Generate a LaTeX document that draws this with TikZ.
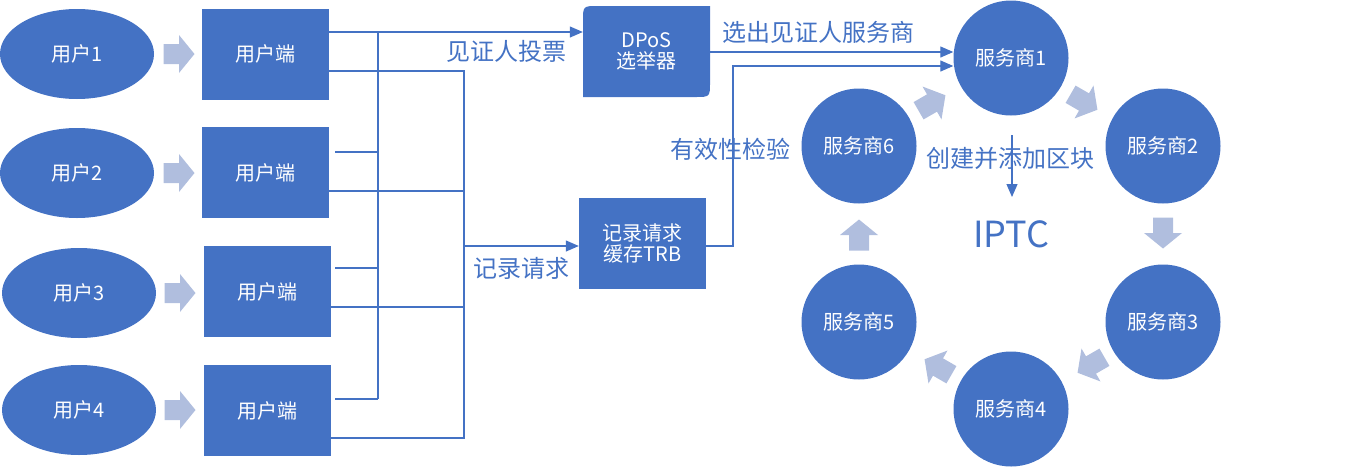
\documentclass[tikz,border=0pt]{standalone}
\usepackage{fontspec}
\setmainfont{Noto Sans CJK SC}
\usetikzlibrary{
  arrows.meta,
  shapes.geometric,
  positioning
}
\definecolor{boxblue}{RGB}{68,114,196}
\definecolor{lightblue}{RGB}{176,190,222}

\begin{document}
\begin{tikzpicture}[x=1pt,y=-1pt,
      user/.style={
         ellipse,
         minimum width=154pt,
         minimum height=90pt,
         inner sep=0pt,
         fill=boxblue,
         text=white,
         font=\fontsize{20}{24}\selectfont
      },
      client/.style={
         rectangle,
         minimum width=127pt,
         minimum height=91pt,
         inner sep=0pt,
         fill=boxblue,
         text=white,
         align=center,
         font=\fontsize{20}{24}\selectfont
      },
      server/.style={
         circle,
         minimum size=115pt,
         inner sep=0pt,
         fill=boxblue,
         text=white,
         font=\fontsize{20}{24}\selectfont
      },
      blk/.pic={
         \fill[lightblue] (-15.5,-10) -- (0,-10) -- (0,-19) -- (15.5,0)
            -- (0,19) -- (0,10) -- (-15.5,10) -- cycle;
      },
      lbl/.style={text=boxblue, font=\fontsize{24}{28}\selectfont},
      ln/.style={draw=boxblue, line width=1.2pt},
      tip/.style={-{Triangle[length=13pt,width=11pt]}}
    ]
    \useasboundingbox (0,0) rectangle (1361,469);
    % users and clients
    \node (u1) [user] at (77,54) {用户1};
    \node (u2) [user] at (77,173) {用户2};
    \node (u3) [user] at (79,293) {用户3};
    \node (u4) [user] at (79,410) {用户4};
    \node (c1) [client] at (265.5,54) {用户端};
    \node (c2) [client] at (265.5,172.5) {用户端};
    \node (c3) [client] at (267.5,291.5) {用户端};
    \node (c4) [client] at (267.5,410.5) {用户端};
    \pic at (179,54) {blk};
    \pic at (179,173) {blk};
    \pic at (180,293) {blk};
    \pic at (180,410) {blk};
    % DPoS and TRB
    \fill[boxblue] (583,97) -- (583,21) .. controls (583,6) .. (598,6) -- (710,6)
       -- (710,82) .. controls (710,97) .. (695,97) -- cycle;
    \node (dpos) [client, fill=none, minimum width=127pt] at (646.5,51.5) {DPoS\\[-3pt]选举器};
    \node (trb) [client] at (642.5,243) {记录请求\\[-3pt]缓存TRB};
    % servers
    \node (s1) [server] at (1011,58) {服务商1};
    \node (s2) [server] at (1163,146) {服务商2};
    \node (s3) [server] at (1163,322) {服务商3};
    \node (s4) [server] at (1011,409) {服务商4};
    \node (s5) [server] at (859,322) {服务商5};
    \node (s6) [server] at (859,146) {服务商6};
    \pic[rotate=30] at (932,103) {blk};
    \pic[rotate=-30] at (1084,102) {blk};
    \pic[rotate=-90] at (1163,233) {blk};
    \pic[rotate=210] at (1091,365) {blk};
    \pic[rotate=150] at (938,367) {blk};
    \pic[rotate=90] at (859,235) {blk};
    % lines
    \draw[ln,tip] (c1.east |- 0,32) -- (dpos.west |- 0,32);
    \draw[ln] (378,32) -- (378,399);
    \draw[ln] (c2.east |- 0,152) ++(6,0) -- (378,152);
    \draw[ln] (c3.east |- 0,268) ++(4,0) -- (378,268);
    \draw[ln] (c4.east |- 0,399) ++(4,0) -- (378,399);
    \draw[ln] (c1.east |- 0,71) -- (464,71) -- (464,438) -- (c4.east |- 0,438);
    \draw[ln] (c2.east |- 0,191) -- (464,191);
    \draw[ln] (c3.east |- 0,307) -- (464,307);
    \draw[ln,tip] (464,246) -- (trb.west |- 0,246);
    \draw[ln,tip] (dpos.east |- 0,52) -- (s1.west |- 0,52);
    \draw[ln,tip] (trb.east |- 0,246) -| (733,66) -- (s1.west |- 0,66);
    \coordinate (blockstart) at (1012,135);
    \coordinate (blockend) at (1012,197);
    % labels
    \node (vote) [lbl] at (506,51) {见证人投票};
    \node (req) [lbl] at (521,268) {记录请求};
    \node (elect) [lbl] at (818,32) {选出见证人服务商};
    \node (check) [lbl] at (730,149) {有效性检验};
    \node (create) [lbl] at (1010,158) {创建并添加区块};
    \node (iptc) [text=boxblue, font=\fontsize{36}{40}\selectfont] at (1011,234) {IPTC};
    \draw[ln,tip] (blockstart) -- (blockend);
\end{tikzpicture}
\end{document}
